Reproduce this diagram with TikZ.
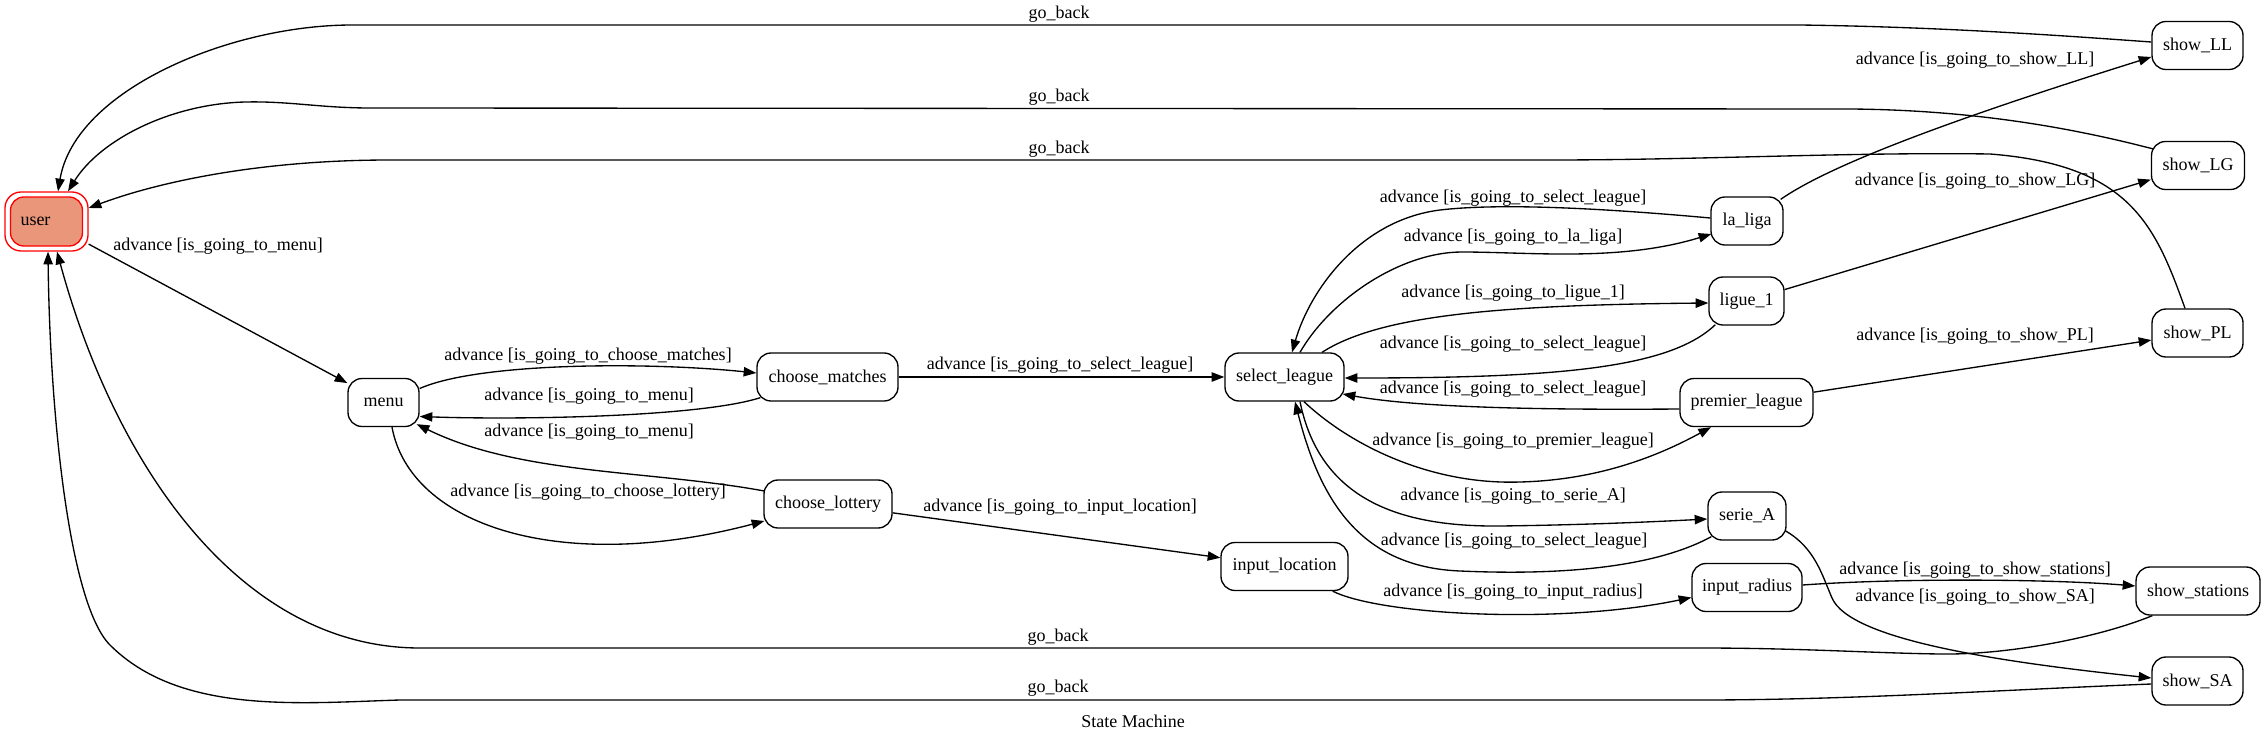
\documentclass[tikz,border=0pt]{standalone}
\usepackage{fontspec}
\setmainfont{Liberation Serif}
\usetikzlibrary{arrows.meta,calc}
\definecolor{usrfill}{RGB}{233,150,122}
\begin{document}
\begin{tikzpicture}[x=0.75pt,y=-0.75pt,
  every node/.style={font=\fontsize{13.5}{16}\selectfont},
  st/.style={draw, line width=1pt, rounded corners=10.5pt, minimum height=36pt, inner sep=0pt},
  lbl/.style={inner sep=0pt},
  ed/.style={line width=1pt, -{Triangle[length=9.5pt,width=7pt]}},
]
\useasboundingbox (0,0) rectangle (2265,742);

% nodes
\node[draw=red, line width=1pt, rounded corners=12pt, minimum width=62.25pt, minimum height=44.25pt, inner sep=0pt] (user) at (46.5,221.5) {};
\node[draw=red, fill=usrfill, line width=1pt, rounded corners=10pt, minimum width=54pt, minimum height=36.75pt, text width=39pt, inner xsep=7.5pt, inner ysep=0pt, align=left] (userin) at (user.center) {user};
\node[st, minimum width=53.25pt] (menu) at (383.5,402.5) {menu};
\node[st, minimum width=105.75pt] (cm) at (827.5,377) {choose\_matches};
\node[st, minimum width=96pt] (cl) at (828,504) {choose\_lottery};
\node[st, minimum width=89.25pt] (sl) at (1284.5,377) {select\_league};
\node[st, minimum width=54pt] (ll) at (1747,221) {la\_liga};
\node[st, minimum width=56.25pt] (l1) at (1746.5,301) {ligue\_1};
\node[st, minimum width=99.75pt] (pl) at (1746.5,402.5) {premier\_league};
\node[st, minimum width=58.5pt] (sa) at (1747,516) {serie\_A};
\node[st, minimum width=95.25pt] (il) at (1284.5,566.5) {input\_location};
\node[st, minimum width=82.5pt] (ir) at (1747,587.5) {input\_radius};
\node[st, minimum width=68.25pt] (sLL) at (2197.5,45.5) {show\_LL};
\node[st, minimum width=69.75pt] (sLG) at (2198,165.5) {show\_LG};
\node[st, minimum width=68.25pt] (sPL) at (2197.5,333) {show\_PL};
\node[st, minimum width=93pt] (sST) at (2198,591) {show\_stations};
\node[st, minimum width=68.25pt] (sSA) at (2197.5,681) {show\_SA};
\node (title) at (1133,721) {State Machine};

% edges
\draw[ed] (user) -- (menu) node[lbl] (t1) at (218,246) {advance [is\_going\_to\_menu]};
\draw[ed] ($(menu.east)+(0,-14)$) .. controls (480,362) and (650,362) .. ($(cm.west)+(0,-4)$)
  node[lbl] (t2) at (588,356) {advance [is\_going\_to\_choose\_matches]};
\draw[ed] ($(cm.south west)+(4,-4)$) .. controls (700,417) and (520,420) .. ($(menu.east)+(0,14)$)
  node[lbl] (t3) at (589,396) {advance [is\_going\_to\_menu]};
\draw[ed] ($(cl.west)+(1,-13)$) .. controls (650,470) and (520,475) .. ($(menu.south east)+(-3,-3)$)
  node[lbl] (t4) at (589,432) {advance [is\_going\_to\_menu]};
\draw[ed] ($(menu.south)+(8.5,0)$) .. controls (410,525) and (560,575) .. ($(cl.west)+(1,17)$)
  node[lbl] (t5) at (588,492) {advance [is\_going\_to\_choose\_lottery]};
\draw[ed] (cm.east) -- (sl.west) node[lbl] (t6) at (1060,365) {advance [is\_going\_to\_select\_league]};
\draw[ed] (cl) -- (il) node[lbl] (t7) at (1060,507) {advance [is\_going\_to\_input\_location]};
\draw[ed] ($(sl.north)+(15.5,0)$) .. controls (1330,300) and (1400,252) .. (1462,252)
  .. controls (1530,252) and (1620,262) .. ($(ll.west)+(1,13)$)
  node[lbl] (t8) at (1513,237) {advance [is\_going\_to\_la\_liga]};
\draw[ed] ($(ll.west)+(0,-3)$) .. controls (1600,208) and (1500,203) .. (1440,210)
  .. controls (1360,220) and (1310,290) .. ($(sl.north)+(7.5,0)$)
  node[lbl] (t9) at (1513,198) {advance [is\_going\_to\_select\_league]};
\draw[ed] ($(sl.north)+(37.5,0)$) .. controls (1380,315) and (1500,305) .. ($(l1.west)+(0,2)$)
  node[lbl] (t10) at (1513,293) {advance [is\_going\_to\_ligue\_1]};
\draw[ed] ($(l1.south west)+(7,-1)$) .. controls (1670,368) and (1560,378) .. ($(sl.east)+(0,1)$)
  node[lbl] (t11) at (1513,344) {advance [is\_going\_to\_select\_league]};
\draw[ed] ($(pl.west)+(0,6.5)$) .. controls (1550,410) and (1420,408) .. ($(sl.east)+(-2,17)$)
  node[lbl] (t12) at (1513,389) {advance [is\_going\_to\_select\_league]};
\draw[ed] ($(sl.south)+(19.5,0)$) .. controls (1350,445) and (1430,485) .. (1520,482)
  .. controls (1600,480) and (1660,455) .. ($(pl.south)+(-35.5,0)$)
  node[lbl] (t13) at (1513,441) {advance [is\_going\_to\_premier\_league]};
\draw[ed] ($(sl.south)+(15.5,0)$) .. controls (1320,500) and (1400,527) .. (1500,526)
  .. controls (1580,525) and (1650,522) .. ($(sa.west)+(0,3)$)
  node[lbl] (t14) at (1513,496) {advance [is\_going\_to\_serie\_A]};
\draw[ed] ($(sa.south west)+(4,-4)$) .. controls (1650,570) and (1550,575) .. (1460,571)
  .. controls (1360,567) and (1320,500) .. ($(sl.south)+(10.5,0)$)
  node[lbl] (t15) at (1514,541) {advance [is\_going\_to\_select\_league]};
\draw[ed] ($(il.south east)+(-16,0)$) .. controls (1380,615) and (1560,625) .. ($(ir.west)+(0,10)$)
  node[lbl] (t16) at (1513,592) {advance [is\_going\_to\_input\_radius]};
\draw[ed] ($(ir.east)+(0,-2.5)$) .. controls (1900,578) and (2050,579) .. ($(sST.west)+(0,-5)$)
  node[lbl] (t17) at (1975,570) {advance [is\_going\_to\_show\_stations]};
\draw[ed] ($(sa.east)+(-1,15)$) .. controls (1815,548) and (1822,575) .. (1832,598)
  .. controls (1850,640) and (2000,662) .. ($(sSA.west)+(0,-3)$)
  node[lbl] (t18) at (1975,597) {advance [is\_going\_to\_show\_SA]};
\draw[ed] ($(ll.north east)+(-3,3)$) .. controls (1830,165) and (1950,120) .. ($(sLL.west)+(0,11.5)$)
  node[lbl] (t19) at (1975,60) {advance [is\_going\_to\_show\_LL]};
\draw[ed] (l1) -- (sLG) node[lbl] (t20) at (1975,181) {advance [is\_going\_to\_show\_LG]};
\draw[ed] (pl) -- (sPL) node[lbl] (t21) at (1975,336) {advance [is\_going\_to\_show\_PL]};

% go_back edges
\draw[ed] ($(sLL.west)+(0,-3.5)$) .. controls (2080,37) and (1950,27) .. (1800,25) -- (352,25)
  .. controls (230,25) and (75,90) .. ($(user.north)+(11.5,0)$)
  node[lbl] (g1) at (1059,14) {go\_back};
\draw[ed] ($(sLG.north west)+(2,8)$) .. controls (2080,130) and (1980,110) .. (1850,109) -- (371,108)
  .. controls (320,108) and (290,101) .. (245,102)
  .. controls (170,104) and (100,140) .. ($(user.north)+(21.5,0)$)
  node[lbl] (g2) at (1059,97) {go\_back};
\draw[ed] ($(sPL.north)+(-12.5,0)$) .. controls (2155,225) and (2130,165) .. (1990,154)
  .. controls (1850,152) and (1700,160) .. (1550,160) -- (390,160)
  .. controls (250,160) and (150,185) .. ($(user.east)+(0,-13.5)$)
  node[lbl] (g3) at (1059,149) {go\_back};
\draw[ed] ($(sST.south west)+(17,0)$) .. controls (2100,637) and (2010,655) .. (1940,654)
  .. controls (1870,653) and (1800,648) .. (1700,648) -- (420,648)
  .. controls (240,648) and (115,465) .. ($(user.south)+(10.5,0)$)
  node[lbl] (g4) at (1058,637) {go\_back};
\draw[ed] ($(sSA.west)+(0,3)$) .. controls (2000,690) and (1850,700) .. (1700,700) -- (400,700)
  .. controls (300,703) and (180,715) .. (110,645)
  .. controls (70,605) and (50,420) .. ($(user.south)+(1.5,0)$)
  node[lbl] (g5) at (1058,688) {go\_back};
\end{tikzpicture}
\end{document}
